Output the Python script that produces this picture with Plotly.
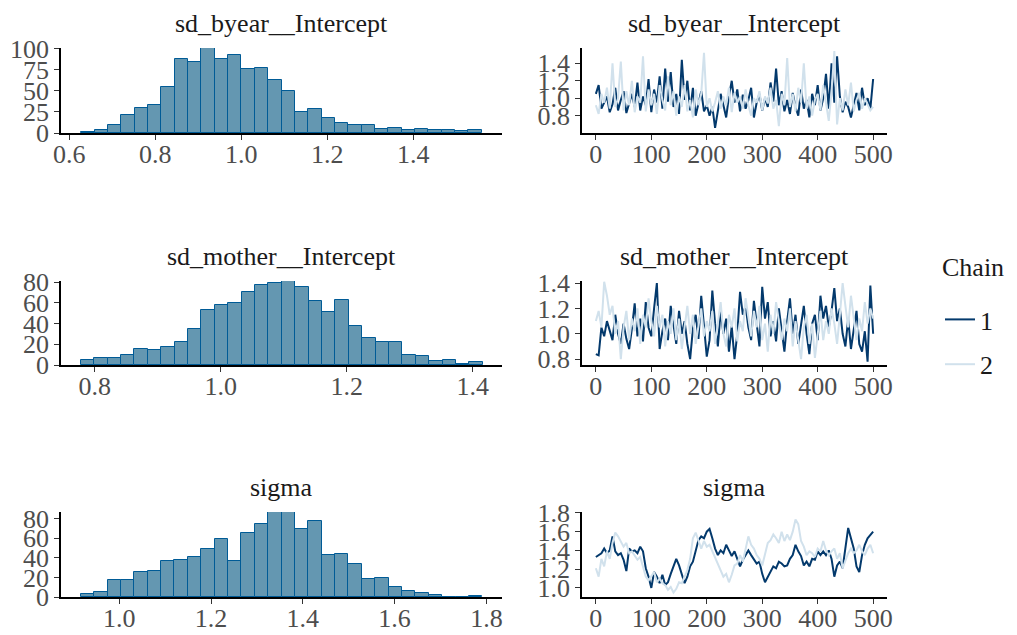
import numpy as np
import plotly.graph_objects as go

# ---------------- data ----------------
params = ["sd_byear__Intercept", "sd_mother__Intercept", "sigma"]

# histogram bin span (first bin left edge, last bin right edge) and counts (30 bins)
hist_lo = [0.628, 0.778, 0.916]
hist_hi = [1.559, 1.416, 1.791]
counts_byear = [1, 4, 10, 21, 30, 33, 55, 88, 84, 101, 88, 93, 76, 77, 63,
                50, 25, 28, 18, 12, 10, 9, 5, 6, 3, 5, 3, 4, 2, 3]
counts_mother = [5, 7, 7, 10, 15, 14, 17, 22, 35, 53, 58, 60, 70, 77, 79,
                 81, 75, 62, 51, 63, 38, 26, 22, 22, 10, 9, 4, 5, 1, 3]
counts_sigma = [3, 5, 17, 17, 26, 27, 37, 38, 41, 49, 59, 37, 66, 75, 87,
                87, 70, 78, 43, 44, 34, 18, 19, 10, 6, 4, 2, 0, 0, 1]

# trace values, read every 5 iterations (0..500)
iterations = list(range(0, 501, 5))
byear_c1 = [1.05, 1.15, 0.88, 0.95, 1.02, 0.84, 0.93, 1.12, 0.86, 0.98,
            1.08, 0.83, 0.95, 1.05, 0.90, 1.18, 0.86, 1.02, 0.92, 1.22,
            0.84, 1.10, 0.95, 1.25, 0.88, 1.34, 0.96, 1.30, 0.90, 1.05,
            0.82, 1.44, 0.98, 1.20, 0.86, 1.12, 0.80, 0.95, 1.08, 0.85,
            0.92, 0.80, 0.90, 0.66, 0.88, 1.05, 0.92, 0.78, 1.02, 1.20,
            0.95, 1.10, 0.85, 1.04, 0.88, 0.98, 1.12, 0.78, 0.95, 1.05,
            0.86, 1.00, 0.90, 1.18, 0.96, 1.34, 0.92, 1.08, 0.85, 0.98,
            0.82, 1.06, 0.90, 0.80, 1.10, 0.88, 0.98, 0.78, 1.05, 0.92,
            1.15, 0.86, 1.00, 1.28, 0.88, 1.40, 0.95, 1.48, 1.02, 0.84,
            0.96, 0.90, 0.78, 0.94, 1.06, 0.86, 1.12, 0.92, 1.00, 0.88,
            1.22]
byear_c2 = [0.92, 0.82, 1.05, 0.95, 1.12, 0.88, 1.40, 0.90, 1.00, 1.42,
            0.86, 1.08, 0.92, 1.20, 0.84, 1.02, 0.95, 1.48, 0.85, 1.10,
            0.92, 1.05, 0.82, 1.15, 0.98, 0.86, 1.25, 0.92, 1.08, 0.80,
            1.02, 0.90, 1.15, 0.85, 0.98, 0.78, 1.10, 0.92, 1.05, 1.52,
            0.90, 1.00, 0.85, 0.95, 1.08, 0.88, 1.02, 0.92, 1.12, 0.84,
            1.06, 0.95, 1.02, 0.88, 1.10, 0.92, 0.80, 1.00, 0.95, 1.08,
            0.86, 1.02, 0.94, 1.12, 0.88, 0.98, 0.68, 1.05, 0.92, 1.46,
            0.90, 1.05, 0.85, 1.12, 0.95, 1.40, 0.88, 1.02, 0.80, 0.98,
            1.05, 0.86, 1.15, 0.92, 0.74, 1.08, 1.54, 0.70, 1.00, 0.86,
            1.10, 0.92, 1.18, 0.85, 0.98, 1.06, 0.88, 1.00, 0.92, 0.86,
            0.90]
mother_c1 = [0.84, 0.83, 1.05, 0.98, 1.10, 1.02, 0.95, 1.15, 1.00, 0.92,
             1.08, 0.96, 0.88, 1.04, 1.24, 0.98, 1.12, 0.94, 1.25, 1.05,
             0.98, 1.20, 1.40, 0.88, 1.02, 1.12, 0.95, 1.22, 1.05, 0.92,
             1.18, 1.00, 1.10, 0.92, 0.80, 1.04, 1.15, 0.96, 1.30, 1.05,
             0.82, 0.95, 1.34, 1.08, 0.90, 1.18, 1.00, 1.12, 0.86, 1.06,
             0.80, 1.00, 1.33, 1.15, 1.22, 1.05, 0.95, 1.26, 1.08, 0.90,
             1.37, 1.12, 1.25, 0.98, 1.10, 0.94, 1.20, 1.05, 0.86, 1.10,
             1.28, 1.00, 1.15, 0.92, 1.06, 1.22, 1.00, 0.84, 1.08, 1.15,
             0.95, 1.30, 1.12, 1.22, 1.05, 1.18, 1.36, 1.10, 1.20, 1.00,
             0.90, 1.12, 0.88, 1.05, 1.18, 0.92, 0.86, 1.02, 0.78, 1.38,
             1.00]
mother_c2 = [1.10, 1.18, 1.05, 1.41, 1.30, 1.15, 1.22, 1.00, 1.10, 0.80,
             1.05, 1.18, 0.95, 1.12, 1.02, 1.20, 0.92, 1.15, 1.05, 1.28,
             1.10, 0.98, 1.22, 1.05, 1.15, 0.90, 1.10, 1.00, 1.20, 0.95,
             1.12, 0.88, 1.05, 1.22, 1.00, 1.15, 0.92, 1.08, 1.20, 0.98,
             1.10, 1.02, 1.18, 0.92, 1.08, 1.25, 1.00, 0.90, 1.15, 1.05,
             1.20, 0.94, 1.10, 1.02, 1.28, 1.12, 0.98, 1.18, 1.05, 1.22,
             0.95, 1.08, 0.86, 1.15, 1.00, 1.25, 1.08, 0.95, 1.12, 1.02,
             1.20, 0.90, 1.10, 0.96, 0.80, 1.05, 1.15, 0.92, 1.08, 0.81,
             1.02, 1.18, 0.95, 1.10, 1.00, 1.20, 1.08, 0.92, 1.15, 1.40,
             1.22, 1.05, 1.30, 1.10, 0.95, 1.12, 1.02, 1.25, 1.08, 1.20,
             1.12]
sigma_c1 = [1.33, 1.35, 1.37, 1.42, 1.37, 1.40, 1.55, 1.39, 1.35, 1.37,
            1.30, 1.18, 1.42, 1.39, 1.40, 1.37, 1.44, 1.39, 1.21, 1.12,
            1.00, 1.17, 1.12, 1.05, 1.14, 1.03, 1.06, 1.15, 1.24, 1.31,
            1.24, 1.14, 1.05, 1.12, 1.23, 1.28, 1.39, 1.51, 1.55, 1.53,
            1.60, 1.63, 1.53, 1.42, 1.35, 1.40, 1.37, 1.46, 1.40, 1.34,
            1.39, 1.31, 1.23, 1.30, 1.35, 1.40, 1.35, 1.31, 1.26, 1.28,
            1.15, 1.06, 1.12, 1.17, 1.23, 1.21, 1.28, 1.26, 1.23, 1.24,
            1.31, 1.35, 1.46, 1.39, 1.34, 1.24, 1.28, 1.23, 1.31, 1.30,
            1.39, 1.35, 1.39, 1.35, 1.40, 1.31, 1.12, 1.24, 1.28, 1.21,
            1.42, 1.64, 1.53, 1.42, 1.23, 1.17, 1.35, 1.46, 1.53, 1.57,
            1.60]
sigma_c2 = [1.21, 1.12, 1.31, 1.23, 1.39, 1.31, 1.48, 1.59, 1.55, 1.50,
            1.44, 1.48, 1.37, 1.39, 1.35, 1.30, 1.33, 1.23, 1.12, 1.08,
            1.12, 1.17, 1.06, 1.10, 1.05, 1.03, 0.98, 1.01, 0.95, 0.99,
            1.06, 1.05, 1.12, 1.19, 1.31, 1.53, 1.59, 1.50, 1.42, 1.50,
            1.44, 1.46, 1.39, 1.33, 1.24, 1.17, 1.12, 1.15, 1.06, 1.14,
            1.24, 1.26, 1.35, 1.28, 1.42, 1.55, 1.46, 1.42, 1.35, 1.31,
            1.24, 1.35, 1.48, 1.51, 1.57, 1.53, 1.48, 1.60, 1.50, 1.57,
            1.51, 1.60, 1.73, 1.68, 1.50, 1.44, 1.35, 1.39, 1.37, 1.33,
            1.42, 1.39, 1.50, 1.40, 1.35, 1.39, 1.42, 1.31, 1.37, 1.21,
            1.30, 1.37, 1.42, 1.37, 1.40, 1.46, 1.39, 1.35, 1.42, 1.46,
            1.37]

hist_counts = [counts_byear, counts_mother, counts_sigma]
traces_c1 = [byear_c1, mother_c1, sigma_c1]
traces_c2 = [byear_c2, mother_c2, sigma_c2]
chain_names = ["1", "2"]
legend_title = "Chain"

# ---------------- layout helpers ----------------
W, H = 1017, 635
FONT = "Liberation Serif"
FS = 26
hist_x_px = (61, 502)
trace_x_px = (582, 887)
rows_px = [(48, 133), (281, 365), (512, 597)]

hist_xrange = [[0.581, 1.606], [0.7465, 1.4465], [0.873, 1.834]]
hist_xticks = [[0.6, 0.8, 1.0, 1.2, 1.4], [0.8, 1.0, 1.2, 1.4], [1.0, 1.2, 1.4, 1.6, 1.8]]
hist_yticks = [[0, 25, 50, 75, 100], [0, 20, 40, 60, 80], [0, 20, 40, 60, 80]]
trace_yrange = [[0.602, 1.575], [0.754, 1.416], [0.903, 1.81]]
trace_yticks = [[0.8, 1.0, 1.2, 1.4], [0.8, 1.0, 1.2, 1.4], [1.0, 1.2, 1.4, 1.6, 1.8]]

c_fill, c_edge = "#6497b1", "#005b96"
c_chain = ["#03396c", "#d1e1ec"]

fig = go.Figure()

axis_common = dict(showline=True, linecolor="black", linewidth=1.6, ticks="outside",
                   ticklen=5, tickwidth=1.2, tickcolor="#333333", showgrid=False,
                   zeroline=False, automargin=False,
                   tickfont=dict(family=FONT, size=FS, color="#4d4d4d"),
                   fixedrange=True)
xaxis_extra = dict(ticklabelstandoff=-8)

layout = dict(width=W, height=H, autosize=False, margin=dict(l=0, r=0, t=0, b=0, pad=0),
              template="none",
              paper_bgcolor="white", plot_bgcolor="white",
              font=dict(family=FONT, size=FS, color="#1a1a1a"))
annotations = []

for r in range(3):
    top, bot = rows_px[r]
    ydom = [1 - bot / H, 1 - top / H]
    hx, tx = 2 * r + 1, 2 * r + 2
    # histogram
    cnt = hist_counts[r]
    edges = np.linspace(hist_lo[r], hist_hi[r], len(cnt) + 1)
    centers = (edges[:-1] + edges[1:]) / 2
    width = (hist_hi[r] - hist_lo[r]) / len(cnt)
    fig.add_trace(go.Bar(x=centers, y=cnt, width=width, showlegend=False,
                         marker=dict(color=c_fill, line=dict(color=c_edge, width=1)),
                         xaxis=f"x{hx}", yaxis=f"y{hx}"))
    # trace lines
    for k, vals in enumerate([traces_c1[r], traces_c2[r]]):
        fig.add_trace(go.Scatter(x=iterations, y=vals, mode="lines",
                                 line=dict(color=c_chain[k], width=2),
                                 name=chain_names[k], legendgroup=chain_names[k],
                                 showlegend=(r == 0),
                                 xaxis=f"x{tx}", yaxis=f"y{tx}"))
    sfx_h = "" if hx == 1 else str(hx)
    sfx_t = str(tx)
    layout["xaxis" + sfx_h] = dict(axis_common, **xaxis_extra,
                                   domain=[hist_x_px[0] / W, hist_x_px[1] / W],
                                   anchor=f"y{hx}", range=hist_xrange[r],
                                   tickvals=hist_xticks[r], tickformat=".1f")
    layout["yaxis" + sfx_h] = dict(axis_common, domain=ydom, anchor=f"x{hx}",
                                   range=[0, max(cnt)], tickvals=hist_yticks[r])
    layout["xaxis" + sfx_t] = dict(axis_common, **xaxis_extra,
                                   domain=[trace_x_px[0] / W, trace_x_px[1] / W],
                                   anchor=f"y{tx}", range=[-25, 525],
                                   tickvals=[0, 100, 200, 300, 400, 500])
    layout["yaxis" + sfx_t] = dict(axis_common, domain=ydom, anchor=f"x{tx}",
                                   range=trace_yrange[r], tickvals=trace_yticks[r],
                                   tickformat=".1f")
    for xp in (hist_x_px, trace_x_px):
        annotations.append(dict(text=params[r], x=(xp[0] + xp[1]) / 2 / W, y=ydom[1],
                                xref="paper", yref="paper", xanchor="center", yanchor="bottom",
                                yshift=8, showarrow=False,
                                font=dict(family=FONT, size=FS, color="#1a1a1a")))

annotations.append(dict(text=legend_title, x=973 / W, y=1 - 267 / H, xref="paper", yref="paper",
                        xanchor="center", yanchor="middle", showarrow=False,
                        font=dict(family=FONT, size=FS, color="#1a1a1a")))
layout["annotations"] = annotations
layout["legend"] = dict(x=940 / W, y=1 - 296 / H, xanchor="left", yanchor="top",
                        font=dict(family=FONT, size=FS, color="#1a1a1a"),
                        tracegroupgap=8, bgcolor="rgba(0,0,0,0)", borderwidth=0)
layout["showlegend"] = True
layout["bargap"] = 0
fig.update_layout(**layout)

fig.write_html("out.html")
